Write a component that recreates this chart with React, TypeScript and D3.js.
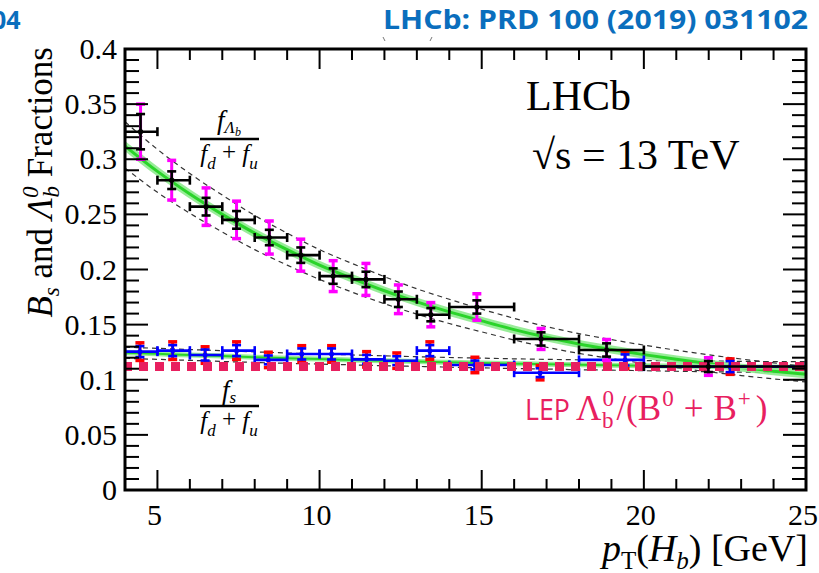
import React from "react";
import * as d3 from "d3";

const W = 819;
const H = 573;

// Axis ranges and tick labels
const xDomain = [4, 25];
const yDomain = [0, 0.4];
const xMajor = [5, 10, 15, 20, 25];
const xTickLabels = ["5", "10", "15", "20", "25"];
const yMajor = [0, 0.05, 0.1, 0.15, 0.2, 0.25, 0.3, 0.35, 0.4];
const yTickLabels = ["0", "0.05", "0.1", "0.15", "0.2", "0.25", "0.3", "0.35", "0.4"];

// pT bin edges [GeV]
const binLo = [4, 5, 6, 7, 8, 9, 10, 11, 12, 13, 14, 16, 18, 20];
const binHi = [5, 6, 7, 8, 9, 10, 11, 12, 13, 14, 16, 18, 20, 25];

// f_Lambda_b / (f_d + f_u)
const lbX = [4.48, 5.44, 6.5, 7.44, 8.45, 9.42, 10.42, 11.43, 12.43, 13.43, 14.85, 16.83, 18.85, 21.99];
const lbY = [0.325, 0.281, 0.257, 0.245, 0.229, 0.213, 0.194, 0.191, 0.173, 0.159, 0.166, 0.137, 0.127, 0.112];
const lbStat = [0.016, 0.008, 0.008, 0.008, 0.007, 0.007, 0.007, 0.007, 0.007, 0.006, 0.006, 0.006, 0.006, 0.005];
const lbTot = [0.025, 0.018, 0.017, 0.017, 0.015, 0.0145, 0.014, 0.0145, 0.013, 0.011, 0.012, 0.0095, 0.0095, 0.008];

// f_s / (f_d + f_u)
const bsX = [4.46, 5.47, 6.47, 7.44, 8.42, 9.45, 10.37, 11.45, 12.38, 13.4, 14.79, 16.8, 19.42, 22.66];
const bsY = [0.1255, 0.1264, 0.1224, 0.1264, 0.118, 0.1234, 0.1234, 0.1185, 0.1173, 0.1264, 0.1134, 0.1064, 0.118, 0.1119];
const bsStat = [0.005, 0.005, 0.005, 0.005, 0.004, 0.005, 0.005, 0.004, 0.004, 0.005, 0.004, 0.004, 0.005, 0.005];
const bsTot = [0.008, 0.008, 0.0075, 0.008, 0.007, 0.0075, 0.0075, 0.007, 0.007, 0.008, 0.007, 0.0065, 0.008, 0.007];

// Fitted pT dependence and its uncertainty envelopes
const fitX = [4, 5, 6, 7, 8, 9, 10, 11, 12, 13, 14, 15, 16, 17, 18, 19, 20, 21, 22, 23, 24, 25];
const lbFit = [0.312, 0.289, 0.2685, 0.25, 0.233, 0.218, 0.204, 0.192, 0.1807, 0.1706, 0.1616, 0.1534, 0.1455, 0.1385, 0.1325, 0.1275, 0.1228, 0.1185, 0.1146, 0.111, 0.1078, 0.1049];
const lbFitHi = [0.334, 0.309, 0.287, 0.2675, 0.249, 0.233, 0.218, 0.2055, 0.1935, 0.1825, 0.173, 0.164, 0.1557, 0.1482, 0.1418, 0.1364, 0.1314, 0.1268, 0.1226, 0.1188, 0.1153, 0.1122];
const lbFitLo = [0.292, 0.27, 0.251, 0.234, 0.218, 0.204, 0.191, 0.1795, 0.169, 0.1595, 0.151, 0.1434, 0.136, 0.1295, 0.1239, 0.1192, 0.1148, 0.1108, 0.1072, 0.1038, 0.1008, 0.098];
const bsFit = [0.1245, 0.1235, 0.1225, 0.1215, 0.1205, 0.1196, 0.1188, 0.118, 0.1172, 0.1165, 0.1158, 0.1152, 0.1146, 0.1141, 0.1136, 0.1132, 0.1128, 0.1124, 0.1121, 0.1118, 0.1115, 0.1113];
const bsFitHi = [0.1295, 0.1285, 0.1274, 0.1264, 0.1253, 0.1243, 0.1234, 0.1225, 0.1217, 0.1209, 0.1202, 0.1196, 0.119, 0.1185, 0.1181, 0.1177, 0.1174, 0.1171, 0.1169, 0.1167, 0.1165, 0.1164];
const bsFitLo = [0.1195, 0.1185, 0.1176, 0.1166, 0.1157, 0.1149, 0.1142, 0.1135, 0.1127, 0.1121, 0.1114, 0.1108, 0.1102, 0.1097, 0.1091, 0.1087, 0.1082, 0.1077, 0.1073, 0.1069, 0.1065, 0.1062];

// LEP reference value
const lepValue = 0.112;

const serif = "'Liberation Serif', 'Times New Roman', serif";
const sans = "'Open Sans', 'Noto Sans', sans-serif";
const LEP_COLOR = "#e8205f";
const HEAD_COLOR = "#0a6ebd";

export default function App() {
  const x = d3.scaleLinear().domain(xDomain).range([125, 806]);
  const y = d3.scaleLinear().domain(yDomain).range([490, 49]);
  const [x0, x1] = x.range();
  const [y0, y1] = y.range();

  const line = (ys: number[]) =>
    d3
      .line<number>()
      .x((_, i) => x(fitX[i]))
      .y((v) => y(v))
      .curve(d3.curveMonotoneX)(ys) as string;

  const xMinor = d3.range(4, 26, 1).filter((v) => !xMajor.includes(v));
  const yMinor = d3.range(0, 41, 1).map((v) => v / 100).filter((v) => Math.round(v * 100) % 5 !== 0);

  const cap = 4.5;

  return (
    <svg
      width={W}
      height={H}
      viewBox={`0 0 ${W} ${H}`}
      style={{ position: "fixed", left: 0, top: 0, background: "#fff" }}
    >
      <rect x={0} y={0} width={W} height={H} fill="#fff" />

      {/* header */}
      <text x={-8} y={29} fontFamily={sans} fontWeight={700} fontSize={25} fill={HEAD_COLOR}>
        04
      </text>
      <text x={383} y={29} fontFamily={sans} fontWeight={700} fontSize={27} fill={HEAD_COLOR} textLength={425} lengthAdjust="spacingAndGlyphs">
        LHCb: PRD 100 (2019) 031102
      </text>
      <path d="M383,37 L385,41 M432,37 L430,41" stroke="#777" strokeWidth={1} />

      <clipPath id="plotArea">
        <rect x={x0} y={y1} width={x1 - x0} height={y0 - y1} />
      </clipPath>

      <g clipPath="url(#plotArea)">
        {/* uncertainty envelopes */}
        {[lbFitHi, lbFitLo, bsFitHi, bsFitLo].map((arr, i) => (
          <path key={"env" + i} d={line(arr)} fill="none" stroke="#333" strokeWidth={1.2} strokeDasharray="5,4" />
        ))}
        {/* fitted curves */}
        <path d={line(lbFit)} fill="none" stroke="#8eea8e" strokeWidth={8} strokeLinecap="round" opacity={0.9} />
        <path d={line(lbFit)} fill="none" stroke="#2ad42a" strokeWidth={3} />
        <path d={line(bsFit)} fill="none" stroke="#8eea8e" strokeWidth={5} opacity={0.9} />
        <path d={line(bsFit)} fill="none" stroke="#2ad42a" strokeWidth={2} />

        {/* f_s points: red total, blue statistical */}
        {bsX.map((vx, i) => (
          <g key={"bs" + i}>
            <line x1={x(vx)} x2={x(vx)} y1={y(bsY[i] - bsTot[i])} y2={y(bsY[i] + bsTot[i])} stroke="#ff0000" strokeWidth={3} />
            <line x1={x(vx) - cap} x2={x(vx) + cap} y1={y(bsY[i] - bsTot[i])} y2={y(bsY[i] - bsTot[i])} stroke="#ff0000" strokeWidth={3.5} />
            <line x1={x(vx) - cap} x2={x(vx) + cap} y1={y(bsY[i] + bsTot[i])} y2={y(bsY[i] + bsTot[i])} stroke="#ff0000" strokeWidth={3.5} />
          </g>
        ))}
        {bsX.map((vx, i) => (
          <g key={"bsb" + i} stroke="#0000ff" strokeWidth={2.6}>
            <line x1={x(binLo[i])} x2={x(binHi[i])} y1={y(bsY[i])} y2={y(bsY[i])} />
            <line x1={x(binLo[i])} x2={x(binLo[i])} y1={y(bsY[i]) - cap} y2={y(bsY[i]) + cap} />
            <line x1={x(binHi[i])} x2={x(binHi[i])} y1={y(bsY[i]) - cap} y2={y(bsY[i]) + cap} />
            <line x1={x(vx)} x2={x(vx)} y1={y(bsY[i] - bsStat[i])} y2={y(bsY[i] + bsStat[i])} />
            <line x1={x(vx) - cap} x2={x(vx) + cap} y1={y(bsY[i] - bsStat[i])} y2={y(bsY[i] - bsStat[i])} />
            <line x1={x(vx) - cap} x2={x(vx) + cap} y1={y(bsY[i] + bsStat[i])} y2={y(bsY[i] + bsStat[i])} />
            <circle cx={x(vx)} cy={y(bsY[i])} r={2.5} fill="#0000ff" stroke="none" />
          </g>
        ))}

        {/* LEP reference */}
        <line x1={x0 - 2} x2={x1} y1={y(lepValue)} y2={y(lepValue)} stroke={LEP_COLOR} strokeWidth={9} strokeDasharray="9,7" />

        {/* f_Lambda_b points: magenta total, black statistical */}
        {lbX.map((vx, i) => (
          <g key={"lb" + i}>
            <line x1={x(vx)} x2={x(vx)} y1={y(lbY[i] - lbTot[i])} y2={y(lbY[i] + lbTot[i])} stroke="#ff00ff" strokeWidth={3} />
            <line x1={x(vx) - cap} x2={x(vx) + cap} y1={y(lbY[i] - lbTot[i])} y2={y(lbY[i] - lbTot[i])} stroke="#ff00ff" strokeWidth={3.5} />
            <line x1={x(vx) - cap} x2={x(vx) + cap} y1={y(lbY[i] + lbTot[i])} y2={y(lbY[i] + lbTot[i])} stroke="#ff00ff" strokeWidth={3.5} />
          </g>
        ))}
        {lbX.map((vx, i) => (
          <g key={"lbb" + i} stroke="#000" strokeWidth={2.6}>
            <line x1={x(binLo[i])} x2={x(binHi[i])} y1={y(lbY[i])} y2={y(lbY[i])} />
            <line x1={x(binLo[i])} x2={x(binLo[i])} y1={y(lbY[i]) - cap} y2={y(lbY[i]) + cap} />
            <line x1={x(binHi[i])} x2={x(binHi[i])} y1={y(lbY[i]) - cap} y2={y(lbY[i]) + cap} />
            <line x1={x(vx)} x2={x(vx)} y1={y(lbY[i] - lbStat[i])} y2={y(lbY[i] + lbStat[i])} />
            <line x1={x(vx) - cap} x2={x(vx) + cap} y1={y(lbY[i] - lbStat[i])} y2={y(lbY[i] - lbStat[i])} />
            <line x1={x(vx) - cap} x2={x(vx) + cap} y1={y(lbY[i] + lbStat[i])} y2={y(lbY[i] + lbStat[i])} />
            <circle cx={x(vx)} cy={y(lbY[i])} r={2.6} fill="#000" stroke="none" />
          </g>
        ))}
      </g>

      {/* ticks */}
      <g stroke="#000" strokeWidth={2}>
        {xMajor.map((v) => (
          <g key={"xM" + v}>
            <line x1={x(v)} x2={x(v)} y1={y0} y2={y0 - 20} />
            <line x1={x(v)} x2={x(v)} y1={y1} y2={y1 + 20} />
          </g>
        ))}
        {xMinor.map((v) => (
          <g key={"xm" + v}>
            <line x1={x(v)} x2={x(v)} y1={y0} y2={y0 - 11} />
            <line x1={x(v)} x2={x(v)} y1={y1} y2={y1 + 11} />
          </g>
        ))}
        {yMajor.map((v) => (
          <g key={"yM" + v}>
            <line x1={x0} x2={x0 + 23} y1={y(v)} y2={y(v)} />
            <line x1={x1} x2={x1 - 23} y1={y(v)} y2={y(v)} />
          </g>
        ))}
        {yMinor.map((v) => (
          <g key={"ym" + v}>
            <line x1={x0} x2={x0 + 14} y1={y(v)} y2={y(v)} />
            <line x1={x1} x2={x1 - 14} y1={y(v)} y2={y(v)} />
          </g>
        ))}
      </g>
      <rect x={x0} y={y1} width={x1 - x0} height={y0 - y1} fill="none" stroke="#000" strokeWidth={3} />

      {/* tick labels */}
      <g fontFamily={serif} fontSize={30} fill="#000">
        {xMajor.map((v, i) => (
          <text key={"xl" + v} x={x(v) - 3} y={525} textAnchor="middle">
            {xTickLabels[i]}
          </text>
        ))}
        {yMajor.map((v, i) => (
          <text key={"yl" + v} x={117} y={y(v) + 10} textAnchor="end">
            {yTickLabels[i]}
          </text>
        ))}
      </g>

      {/* axis titles */}
      <text x={808} y={561} textAnchor="end" fontFamily={serif} fontSize={38} fill="#000">
        <tspan fontStyle="italic">p</tspan>
        <tspan fontSize={25} dy={8}>T</tspan>
        <tspan dy={-8}>(</tspan>
        <tspan fontStyle="italic">H</tspan>
        <tspan fontStyle="italic" fontSize={25} dy={8}>b</tspan>
        <tspan dy={-8}>) [GeV]</tspan>
      </text>
      <text transform="translate(52,47) rotate(-90)" textAnchor="end" fontFamily={serif} fontSize={35} fill="#000">
        <tspan fontStyle="italic">B</tspan>
        <tspan fontStyle="italic" fontSize={23} dy={7}>s</tspan>
        <tspan dy={-7}> and </tspan>
        <tspan fontStyle="italic">Λ</tspan>
        <tspan fontStyle="italic" fontSize={23} dy={-14}>0</tspan>
        <tspan fontStyle="italic" fontSize={23} dx={-11} dy={21}>b</tspan>
        <tspan dy={-7}> Fractions</tspan>
      </text>

      {/* experiment label */}
      <text x={526} y={110} fontFamily={serif} fontSize={42} fill="#000">LHCb</text>
      <text x={532} y={169} fontFamily={serif} fontSize={42} fill="#000">
        √s = 13 TeV
      </text>

      {/* ratio labels */}
      <g fontFamily={serif} fill="#000">
        <text x={229} y={129} textAnchor="middle" fontSize={27}>
          <tspan fontStyle="italic">f</tspan>
          <tspan fontStyle="italic" fontSize={17} dy={4}>Λ</tspan>
          <tspan fontStyle="italic" fontSize={12} dy={3}>b</tspan>
        </text>
        <line x1={200} x2={259} y1={139} y2={139} stroke="#000" strokeWidth={2.5} />
        <text x={229} y={162} textAnchor="middle" fontSize={25}>
          <tspan fontStyle="italic">f</tspan>
          <tspan fontStyle="italic" fontSize={17} dy={7}>d</tspan>
          <tspan dy={-9}> + </tspan>
          <tspan fontStyle="italic" dy={2}>f</tspan>
          <tspan fontStyle="italic" fontSize={17} dy={7}>u</tspan>
        </text>

        <text x={229} y={399} textAnchor="middle" fontSize={27}>
          <tspan fontStyle="italic">f</tspan>
          <tspan fontStyle="italic" fontSize={17} dy={4}>s</tspan>
        </text>
        <line x1={200} x2={259} y1={406} y2={406} stroke="#000" strokeWidth={2.5} />
        <text x={229} y={429} textAnchor="middle" fontSize={25}>
          <tspan fontStyle="italic">f</tspan>
          <tspan fontStyle="italic" fontSize={17} dy={7}>d</tspan>
          <tspan dy={-9}> + </tspan>
          <tspan fontStyle="italic" dy={2}>f</tspan>
          <tspan fontStyle="italic" fontSize={17} dy={7}>u</tspan>
        </text>
      </g>

      {/* LEP label */}
      <text x={525} y={420} fill={LEP_COLOR} fontSize={30} fontFamily={sans} textLength={45} lengthAdjust="spacingAndGlyphs">
        LEP
      </text>
      <text x={576} y={420} fill={LEP_COLOR} fontSize={35} fontFamily={serif}>
        <tspan>Λ</tspan>
        <tspan fontSize={23} dx={1} dy={-14}>0</tspan>
        <tspan fontSize={23} dx={-12} dy={22}>b</tspan>
        <tspan dx={3} dy={-8}>/(B</tspan>
        <tspan fontSize={23} dx={1} dy={-14}>0</tspan>
        <tspan dx={10} dy={14}>+</tspan>
        <tspan dx={10}>B</tspan>
        <tspan fontSize={23} dx={1} dy={-14}>+</tspan>
        <tspan dx={5} dy={14}>)</tspan>
      </text>
    </svg>
  );
}
